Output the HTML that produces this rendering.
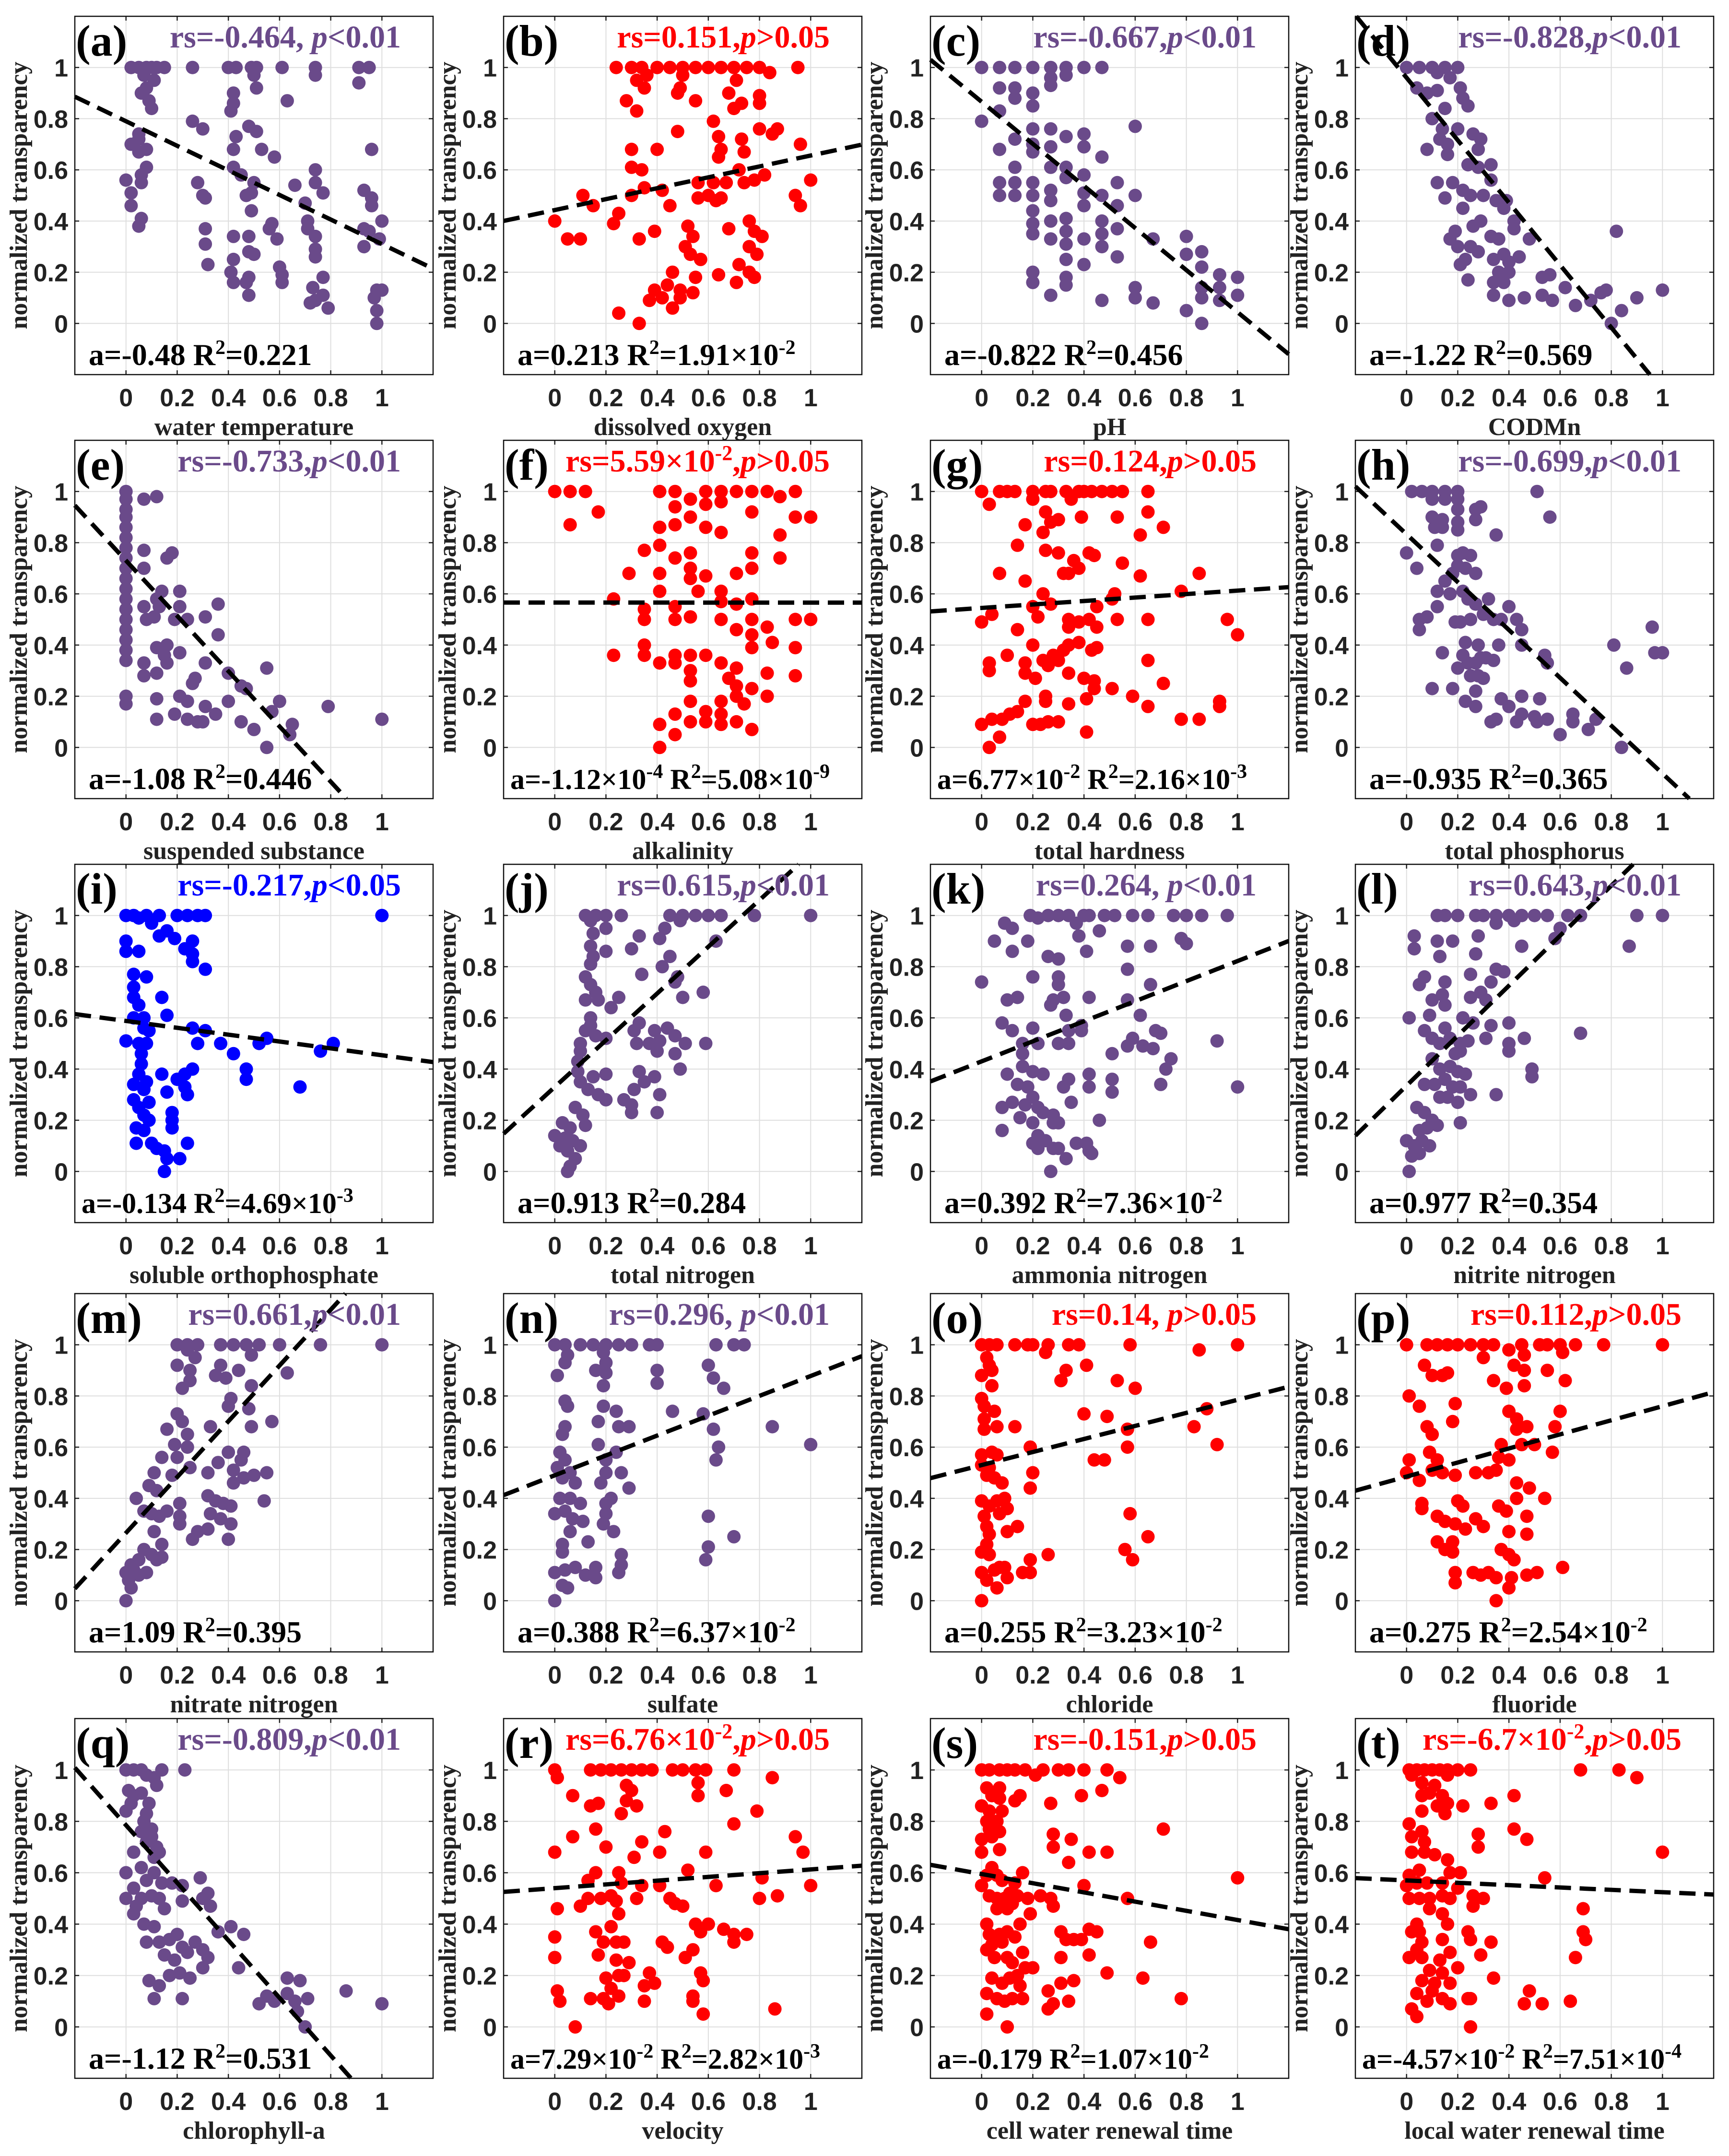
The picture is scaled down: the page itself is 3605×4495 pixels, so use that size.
<!DOCTYPE html>
<html><head><meta charset="utf-8"><style>
html,body{margin:0;padding:0;background:#fff;}
svg{display:block;}
</style></head><body>
<svg id="fig" xmlns="http://www.w3.org/2000/svg" width="3605" height="4495" viewBox="0 0 3605 4495">
<rect x="0" y="0" width="3605" height="4495" fill="#fff"/>
</svg>
<script>
const letters=["a","b","c","d","e","f","g","h","i","j","k","l","m","n","o","p","q","r","s","t"];
const xLabels=["water temperature","dissolved oxygen","pH","CODMn","suspended substance","alkalinity","total hardness","total phosphorus","soluble orthophosphate","total nitrogen","ammonia nitrogen","nitrite nitrogen","nitrate nitrogen","sulfate","chloride","fluoride","chlorophyll-a","velocity","cell water renewal time","local water renewal time"];
const rsTexts=["rs=-0.464, p<0.01","rs=0.151,p>0.05","rs=-0.667,p<0.01","rs=-0.828,p<0.01","rs=-0.733,p<0.01","rs=5.59×10^-2,p>0.05","rs=0.124,p>0.05","rs=-0.699,p<0.01","rs=-0.217,p<0.05","rs=0.615,p<0.01","rs=0.264, p<0.01","rs=0.643,p<0.01","rs=0.661,p<0.01","rs=0.296, p<0.01","rs=0.14, p>0.05","rs=0.112,p>0.05","rs=-0.809,p<0.01","rs=6.76×10^-2,p>0.05","rs=-0.151,p>0.05","rs=-6.7×10^-2,p>0.05"];
const statTexts=["a=-0.48 R^2=0.221","a=0.213 R^2=1.91×10^-2","a=-0.822 R^2=0.456","a=-1.22 R^2=0.569","a=-1.08 R^2=0.446","a=-1.12×10^-4 R^2=5.08×10^-9","a=6.77×10^-2 R^2=2.16×10^-3","a=-0.935 R^2=0.365","a=-0.134 R^2=4.69×10^-3","a=0.913 R^2=0.284","a=0.392 R^2=7.36×10^-2","a=0.977 R^2=0.354","a=1.09 R^2=0.395","a=0.388 R^2=6.37×10^-2","a=0.255 R^2=3.23×10^-2","a=0.275 R^2=2.54×10^-2","a=-1.12 R^2=0.531","a=7.29×10^-2 R^2=2.82×10^-3","a=-0.179 R^2=1.07×10^-2","a=-4.57×10^-2 R^2=7.51×10^-4"];
const seriesColors=["P","R","P","P","P","R","R","P","B","P","P","P","P","P","R","R","P","R","R","R"];
const slopes=[-0.48,0.213,-0.822,-1.22,-1.08,-0.000112,0.0677,-0.935,-0.134,0.913,0.392,0.977,1.09,0.388,0.255,0.275,-1.12,0.0729,-0.179,-0.0457];
const intercepts=[0.79,0.443,0.866,0.96,0.73,0.566,0.545,0.833,0.588,0.33,0.43,0.335,0.265,0.49,0.53,0.485,0.785,0.54,0.595,0.57];
const tickValues=[0,0.2,0.4,0.6,0.8,1];
const tickLabels=["0","0.2","0.4","0.6","0.8","1"];

const panelA=[[0.02,1],[0.05,1],[0.08,1],[0.1,1],[0.12,1],[0.15,1],[0.07,0.97],[0.11,0.95],[0.26,1],[0.4,1],[0.43,1],[0.49,1],[0.51,1],[0.5,0.97],[0.61,1],[0.74,1],[0.74,0.97],[0.91,1],[0.95,1],[0.91,0.94],[0.06,0.9],[0.08,0.92],[0.09,0.87],[0.1,0.84],[0.42,0.9],[0.42,0.86],[0.41,0.83],[0.51,0.92],[0.63,0.87],[0.26,0.79],[0.3,0.76],[0.48,0.77],[0.51,0.75],[0.43,0.73],[0.42,0.68],[0.53,0.68],[0.58,0.65],[0.05,0.74],[0.05,0.72],[0.02,0.7],[0.05,0.67],[0.08,0.68],[0.08,0.61],[0.0,0.56],[0.06,0.58],[0.06,0.55],[0.02,0.51],[0.02,0.46],[0.06,0.41],[0.05,0.38],[0.28,0.55],[0.3,0.5],[0.31,0.49],[0.42,0.61],[0.45,0.58],[0.5,0.55],[0.47,0.5],[0.49,0.51],[0.49,0.44],[0.66,0.54],[0.7,0.47],[0.74,0.6],[0.74,0.55],[0.77,0.51],[0.31,0.37],[0.31,0.31],[0.32,0.23],[0.42,0.25],[0.41,0.2],[0.42,0.16],[0.42,0.34],[0.48,0.34],[0.48,0.28],[0.5,0.27],[0.48,0.18],[0.47,0.16],[0.48,0.11],[0.56,0.37],[0.57,0.39],[0.59,0.33],[0.6,0.22],[0.61,0.19],[0.61,0.16],[0.71,0.37],[0.71,0.4],[0.74,0.34],[0.74,0.29],[0.74,0.26],[0.77,0.18],[0.73,0.14],[0.72,0.08],[0.74,0.09],[0.77,0.11],[0.79,0.06],[0.93,0.52],[0.96,0.49],[0.96,0.46],[0.96,0.68],[0.93,0.37],[0.95,0.36],[0.93,0.3],[0.99,0.33],[1.0,0.4],[0.98,0.13],[0.97,0.1],[0.98,0.05],[0.98,0],[1.0,0.13]];
const panelB=[[0.24,1],[0.3,1],[0.34,1],[0.4,1],[0.45,1],[0.5,1],[0.55,1],[0.6,1],[0.65,1],[0.7,1],[0.75,1],[0.8,1],[0.84,0.98],[0.95,1],[0.36,0.97],[0.32,0.95],[0.5,0.97],[0.71,0.95],[0.35,0.92],[0.49,0.92],[0.48,0.9],[0.55,0.87],[0.68,0.9],[0.73,0.86],[0.7,0.84],[0.8,0.89],[0.8,0.86],[0.28,0.87],[0.32,0.83],[0.62,0.79],[0.48,0.75],[0.64,0.73],[0.8,0.76],[0.87,0.76],[0.85,0.74],[0.73,0.72],[0.96,0.7],[0.3,0.68],[0.4,0.68],[0.65,0.68],[0.64,0.65],[0.74,0.67],[0.3,0.61],[0.34,0.6],[0.35,0.53],[0.72,0.6],[0.82,0.58],[0.78,0.56],[0.74,0.55],[0.56,0.55],[0.62,0.55],[0.67,0.55],[1.0,0.56],[0.42,0.52],[0.3,0.5],[0.56,0.49],[0.6,0.5],[0.63,0.48],[0.65,0.49],[0.94,0.5],[0.96,0.46],[0.11,0.5],[0.15,0.46],[0.45,0.46],[0.25,0.43],[0.0,0.4],[0.23,0.39],[0.05,0.33],[0.1,0.33],[0.33,0.33],[0.39,0.36],[0.52,0.38],[0.54,0.34],[0.51,0.3],[0.53,0.27],[0.57,0.25],[0.68,0.37],[0.76,0.4],[0.78,0.36],[0.81,0.34],[0.76,0.3],[0.79,0.27],[0.72,0.23],[0.76,0.2],[0.78,0.18],[0.64,0.19],[0.71,0.16],[0.46,0.2],[0.44,0.15],[0.49,0.13],[0.55,0.18],[0.54,0.12],[0.39,0.13],[0.37,0.09],[0.42,0.1],[0.46,0.06],[0.49,0.1],[0.25,0.04],[0.33,0]];
const panelC=[[0,1],[0.07,1],[0.13,1],[0.2,1],[0.27,1],[0.27,0.96],[0.27,0.93],[0.33,1],[0.33,0.97],[0.4,1],[0.47,1],[0.07,0.92],[0.13,0.92],[0.13,0.88],[0.2,0.9],[0.2,0.85],[0.07,0.83],[0,0.79],[0.13,0.72],[0.2,0.76],[0.27,0.76],[0.2,0.7],[0.2,0.67],[0.27,0.69],[0.33,0.73],[0.4,0.74],[0.4,0.69],[0.07,0.68],[0.47,0.65],[0.6,0.77],[0.13,0.61],[0.27,0.61],[0.33,0.61],[0.33,0.57],[0.4,0.58],[0.07,0.55],[0.07,0.5],[0.13,0.55],[0.13,0.5],[0.2,0.55],[0.2,0.5],[0.2,0.44],[0.27,0.52],[0.27,0.48],[0.4,0.51],[0.4,0.46],[0.47,0.5],[0.53,0.55],[0.53,0.46],[0.6,0.5],[0.2,0.39],[0.2,0.35],[0.27,0.4],[0.27,0.33],[0.33,0.41],[0.33,0.36],[0.33,0.31],[0.33,0.25],[0.4,0.33],[0.47,0.4],[0.47,0.35],[0.47,0.3],[0.53,0.37],[0.53,0.26],[0.4,0.23],[0.2,0.2],[0.2,0.16],[0.33,0.18],[0.33,0.15],[0.27,0.11],[0.47,0.09],[0.6,0.14],[0.6,0.1],[0.67,0.33],[0.67,0.08],[0.8,0.34],[0.8,0.27],[0.8,0.05],[0.86,0.28],[0.86,0.22],[0.86,0.14],[0.86,0.1],[0.86,0],[0.93,0.19],[0.93,0.14],[0.93,0.09],[1.0,0.18],[1.0,0.11]];
const panelD=[[0,1],[0.05,1],[0.1,1],[0.15,1],[0.2,1],[0.12,0.98],[0.17,0.96],[0.04,0.92],[0.08,0.9],[0.12,0.91],[0.21,0.92],[0.22,0.88],[0.24,0.85],[0.15,0.84],[0.1,0.8],[0.14,0.76],[0.2,0.76],[0.13,0.72],[0.16,0.7],[0.16,0.66],[0.08,0.68],[0.26,0.74],[0.29,0.72],[0.28,0.68],[0.24,0.62],[0.28,0.61],[0.33,0.62],[0.12,0.55],[0.18,0.55],[0.15,0.49],[0.22,0.52],[0.25,0.5],[0.3,0.5],[0.22,0.45],[0.33,0.56],[0.35,0.48],[0.39,0.48],[0.38,0.45],[0.26,0.38],[0.29,0.4],[0.33,0.34],[0.19,0.36],[0.17,0.33],[0.2,0.3],[0.25,0.3],[0.28,0.28],[0.23,0.25],[0.21,0.23],[0.24,0.17],[0.36,0.33],[0.42,0.4],[0.42,0.37],[0.48,0.33],[0.34,0.25],[0.38,0.27],[0.44,0.26],[0.4,0.24],[0.36,0.2],[0.4,0.2],[0.34,0.16],[0.38,0.16],[0.34,0.11],[0.4,0.09],[0.46,0.1],[0.53,0.18],[0.56,0.19],[0.53,0.11],[0.57,0.09],[0.62,0.14],[0.66,0.07],[0.72,0.09],[0.76,0.12],[0.78,0.13],[0.82,0.36],[0.8,0],[0.84,0.05],[0.9,0.1],[1.0,0.13]];
const panelE=[[0,1],[0,0.97],[0,0.93],[0,0.9],[0,0.86],[0,0.82],[0,0.78],[0,0.74],[0,0.7],[0,0.66],[0,0.62],[0,0.58],[0,0.54],[0,0.5],[0,0.46],[0,0.42],[0,0.38],[0,0.34],[0,0.2],[0,0.17],[0.07,0.97],[0.12,0.98],[0.07,0.77],[0.07,0.7],[0.18,0.76],[0.16,0.74],[0.14,0.61],[0.12,0.58],[0.21,0.61],[0.07,0.55],[0.08,0.5],[0.11,0.51],[0.13,0.55],[0.21,0.55],[0.19,0.5],[0.24,0.5],[0.31,0.51],[0.36,0.56],[0.36,0.44],[0.12,0.39],[0.15,0.36],[0.16,0.4],[0.21,0.37],[0.16,0.33],[0.07,0.33],[0.07,0.28],[0.12,0.29],[0.31,0.33],[0.4,0.29],[0.27,0.27],[0.26,0.25],[0.47,0.23],[0.45,0.24],[0.55,0.31],[0.12,0.19],[0.21,0.2],[0.24,0.18],[0.31,0.16],[0.4,0.18],[0.6,0.18],[0.57,0.14],[0.12,0.11],[0.19,0.13],[0.24,0.11],[0.28,0.1],[0.3,0.1],[0.35,0.13],[0.45,0.1],[0.5,0.07],[0.55,0],[0.65,0.09],[0.64,0.05],[0.79,0.16],[1.0,0.11]];
const panelF=[[0,1],[0.06,1],[0.12,1],[0.06,0.87],[0.17,0.92],[0.41,1],[0.47,1],[0.53,0.97],[0.59,1],[0.65,1],[0.71,1],[0.77,1],[0.83,1],[0.88,0.98],[0.94,1],[0.47,0.94],[0.59,0.95],[0.65,0.96],[0.77,0.92],[0.94,0.9],[1.0,0.9],[0.41,0.86],[0.47,0.87],[0.53,0.9],[0.59,0.86],[0.65,0.84],[0.88,0.83],[0.41,0.79],[0.35,0.77],[0.47,0.74],[0.53,0.76],[0.53,0.7],[0.77,0.76],[0.77,0.7],[0.88,0.74],[0.29,0.68],[0.41,0.68],[0.53,0.66],[0.59,0.67],[0.71,0.68],[0.41,0.61],[0.56,0.61],[0.65,0.61],[0.23,0.58],[0.77,0.58],[0.35,0.54],[0.35,0.5],[0.47,0.55],[0.47,0.5],[0.53,0.51],[0.65,0.57],[0.65,0.5],[0.71,0.56],[0.71,0.46],[0.77,0.5],[0.83,0.47],[0.77,0.44],[0.77,0.39],[0.85,0.41],[0.94,0.5],[1.0,0.5],[0.94,0.39],[0.23,0.36],[0.35,0.4],[0.35,0.36],[0.41,0.33],[0.47,0.36],[0.47,0.33],[0.53,0.36],[0.53,0.3],[0.53,0.26],[0.59,0.36],[0.65,0.33],[0.71,0.31],[0.68,0.27],[0.71,0.24],[0.71,0.2],[0.74,0.17],[0.77,0.23],[0.83,0.29],[0.83,0.2],[0.94,0.28],[0.53,0.18],[0.65,0.18],[0.65,0.13],[0.47,0.13],[0.41,0.09],[0.53,0.1],[0.59,0.1],[0.59,0.14],[0.65,0.09],[0.71,0.1],[0.77,0.07],[0.47,0.05],[0.41,0]];
const panelG=[[0,1],[0.03,0.95],[0.07,1],[0.1,1],[0.13,1],[0.2,1],[0.2,0.97],[0.25,1],[0.27,1],[0.33,1],[0.35,0.97],[0.38,1],[0.4,1],[0.43,1],[0.47,1],[0.51,1],[0.55,1],[0.65,1],[0.25,0.92],[0.27,0.88],[0.3,0.89],[0.24,0.84],[0.17,0.87],[0.39,0.9],[0.53,0.9],[0.65,0.92],[0.71,0.86],[0.62,0.83],[0.14,0.79],[0.25,0.77],[0.3,0.76],[0.36,0.73],[0.38,0.7],[0.44,0.75],[0.42,0.76],[0.55,0.72],[0.07,0.68],[0.32,0.68],[0.34,0.68],[0.62,0.67],[0.85,0.68],[0.17,0.65],[0.24,0.6],[0.27,0.56],[0.2,0.55],[0.22,0.51],[0.51,0.58],[0.52,0.6],[0.78,0.61],[0,0.49],[0.04,0.52],[0.34,0.5],[0.34,0.47],[0.38,0.49],[0.42,0.5],[0.45,0.55],[0.45,0.47],[0.53,0.5],[0.65,0.5],[0.96,0.5],[1.0,0.44],[0.14,0.46],[0.2,0.4],[0.1,0.36],[0.03,0.33],[0.03,0.3],[0.17,0.33],[0.17,0.29],[0.21,0.27],[0.24,0.34],[0.26,0.32],[0.28,0.36],[0.3,0.34],[0.32,0.38],[0.34,0.4],[0.38,0.41],[0.43,0.38],[0.45,0.39],[0.65,0.34],[0.34,0.29],[0.4,0.27],[0.44,0.26],[0.44,0.23],[0.51,0.23],[0.71,0.25],[0.59,0.2],[0.25,0.2],[0.25,0.18],[0.17,0.18],[0.34,0.17],[0.41,0.19],[0.65,0.16],[0,0.09],[0.04,0.11],[0.08,0.11],[0.11,0.13],[0.14,0.14],[0.2,0.09],[0.23,0.09],[0.26,0.1],[0.3,0.1],[0.07,0.04],[0.41,0.06],[0.03,0],[0.78,0.11],[0.85,0.11],[0.93,0.18],[0.93,0.16]];
const panelH=[[0.02,1],[0.06,1],[0.1,1],[0.15,1],[0.2,1],[0.1,0.97],[0.15,0.97],[0.2,0.97],[0.2,0.93],[0.27,0.93],[0.29,0.94],[0.1,0.9],[0.14,0.89],[0.11,0.86],[0.14,0.86],[0.2,0.88],[0.2,0.85],[0.27,0.89],[0.35,0.83],[0.51,1],[0.56,0.9],[0,0.76],[0.04,0.7],[0.12,0.79],[0.2,0.75],[0.22,0.76],[0.25,0.75],[0.2,0.71],[0.23,0.7],[0.18,0.68],[0.27,0.68],[0.15,0.65],[0.12,0.61],[0.17,0.6],[0.22,0.61],[0.24,0.58],[0.27,0.56],[0.32,0.58],[0.12,0.55],[0.05,0.5],[0.08,0.51],[0.05,0.46],[0.19,0.49],[0.21,0.49],[0.25,0.5],[0.3,0.52],[0.34,0.5],[0.37,0.5],[0.4,0.55],[0.43,0.5],[0.45,0.46],[0.23,0.41],[0.28,0.4],[0.29,0.35],[0.36,0.4],[0.22,0.36],[0.24,0.33],[0.27,0.33],[0.31,0.35],[0.34,0.34],[0.2,0.31],[0.14,0.37],[0.25,0.28],[0.28,0.28],[0.3,0.27],[0.1,0.23],[0.18,0.23],[0.27,0.22],[0.45,0.4],[0.54,0.36],[0.55,0.33],[0.23,0.18],[0.27,0.16],[0.37,0.19],[0.4,0.16],[0.45,0.2],[0.52,0.19],[0.33,0.1],[0.35,0.11],[0.43,0.1],[0.45,0.13],[0.5,0.12],[0.51,0.1],[0.55,0.11],[0.6,0.05],[0.65,0.1],[0.65,0.13],[0.71,0.07],[0.74,0.11],[0.81,0.4],[0.86,0.31],[0.96,0.47],[0.97,0.37],[1.0,0.37],[0.84,0]];
const panelI=[[0,1],[0.03,1],[0.05,0.99],[0.08,1],[0.13,1],[0.1,0.97],[0.2,1],[0.24,1],[0.28,1],[0.31,1],[0.0,0.9],[0.0,0.86],[0.05,0.86],[0.16,0.94],[0.13,0.92],[0.19,0.91],[0.23,0.87],[0.26,0.9],[0.26,0.85],[0.26,0.82],[0.31,0.79],[0.03,0.77],[0.03,0.72],[0.08,0.76],[0.03,0.68],[0.05,0.65],[0.14,0.68],[0.16,0.61],[0.03,0.6],[0.07,0.6],[0.07,0.56],[0.09,0.55],[0.0,0.51],[0.05,0.5],[0.08,0.5],[0.06,0.46],[0.06,0.42],[0.26,0.56],[0.28,0.5],[0.31,0.55],[0.37,0.5],[0.42,0.46],[0.47,0.4],[0.47,0.36],[0.52,0.5],[0.55,0.52],[0.76,0.47],[0.81,0.5],[0.68,0.33],[1,1],[0.05,0.38],[0.08,0.35],[0.03,0.34],[0.07,0.32],[0.14,0.38],[0.16,0.31],[0.2,0.36],[0.23,0.38],[0.26,0.4],[0.23,0.33],[0.24,0.3],[0.03,0.28],[0.05,0.25],[0.09,0.27],[0.07,0.22],[0.09,0.2],[0.04,0.17],[0.07,0.16],[0.18,0.2],[0.18,0.17],[0.18,0.23],[0.04,0.11],[0.1,0.11],[0.12,0.09],[0.15,0.08],[0.16,0.05],[0.24,0.11],[0.21,0.05],[0.15,0]];
const panelJ=[[0.12,1],[0.16,1],[0.2,1],[0.26,1],[0.45,1],[0.5,1],[0.55,1],[0.6,1],[0.65,1],[0.78,1],[1,1],[0.14,0.98],[0.49,0.98],[0.15,0.93],[0.2,0.95],[0.43,0.95],[0.33,0.92],[0.41,0.91],[0.14,0.88],[0.2,0.86],[0.3,0.87],[0.15,0.84],[0.14,0.81],[0.45,0.84],[0.42,0.8],[0.63,0.9],[0.34,0.77],[0.12,0.76],[0.14,0.73],[0.48,0.76],[0.47,0.74],[0.16,0.7],[0.25,0.68],[0.12,0.67],[0.17,0.67],[0.22,0.64],[0.5,0.68],[0.58,0.7],[0.14,0.6],[0.14,0.57],[0.12,0.55],[0.16,0.53],[0.2,0.52],[0.1,0.5],[0.1,0.47],[0.33,0.58],[0.31,0.55],[0.39,0.55],[0.44,0.56],[0.47,0.53],[0.32,0.5],[0.37,0.5],[0.41,0.51],[0.4,0.47],[0.47,0.46],[0.51,0.5],[0.59,0.5],[0.09,0.43],[0.09,0.39],[0.1,0.35],[0.15,0.37],[0.2,0.38],[0.13,0.32],[0.17,0.3],[0.2,0.28],[0.33,0.39],[0.35,0.35],[0.39,0.37],[0.31,0.32],[0.41,0.3],[0.49,0.4],[0.27,0.28],[0.3,0.26],[0.3,0.23],[0.4,0.23],[0.08,0.25],[0.11,0.22],[0.03,0.19],[0.06,0.17],[0.12,0.18],[0.0,0.14],[0.04,0.13],[0.07,0.12],[0.02,0.1],[0.05,0.08],[0.1,0.1],[0.08,0.05],[0.06,0.02],[0.05,0]];
const panelK=[[0.19,1],[0.22,0.99],[0.26,1],[0.3,1],[0.34,1],[0.37,0.97],[0.4,1],[0.42,1],[0.48,1],[0.52,1],[0.59,1],[0.65,1],[0.75,1],[0.8,1],[0.86,1],[0.96,1],[0.09,0.97],[0.05,0.9],[0.12,0.95],[0.18,0.9],[0.12,0.86],[0.38,0.92],[0.46,0.94],[0.41,0.86],[0.57,0.88],[0.66,0.88],[0.78,0.91],[0.8,0.89],[0.26,0.84],[0.3,0.83],[0.1,0.67],[0,0.74],[0.2,0.76],[0.3,0.76],[0.3,0.73],[0.28,0.67],[0.32,0.68],[0.14,0.68],[0.42,0.68],[0.57,0.79],[0.57,0.67],[0.66,0.73],[0.62,0.61],[0.27,0.65],[0.33,0.61],[0.08,0.58],[0.12,0.55],[0.2,0.56],[0.16,0.5],[0.22,0.5],[0.3,0.5],[0.34,0.5],[0.34,0.55],[0.39,0.55],[0.39,0.57],[0.59,0.52],[0.57,0.49],[0.63,0.49],[0.67,0.48],[0.68,0.55],[0.7,0.54],[0.51,0.46],[0.92,0.51],[0.16,0.46],[0.16,0.41],[0.2,0.39],[0.24,0.38],[0.1,0.38],[0.14,0.34],[0.18,0.33],[0.08,0.25],[0.12,0.27],[0.17,0.26],[0.2,0.29],[0.22,0.25],[0.34,0.36],[0.32,0.33],[0.42,0.38],[0.42,0.33],[0.51,0.36],[0.51,0.31],[0.72,0.4],[0.74,0.44],[0.7,0.34],[1.0,0.33],[0.35,0.27],[0.24,0.23],[0.28,0.22],[0.15,0.21],[0.2,0.19],[0.28,0.19],[0.3,0.19],[0.46,0.2],[0.08,0.16],[0.22,0.14],[0.2,0.11],[0.25,0.12],[0.22,0.09],[0.28,0.09],[0.3,0.09],[0.37,0.11],[0.41,0.11],[0.42,0.08],[0.43,0.07],[0.33,0.05],[0.27,0]];
const panelL=[[0.12,1],[0.15,1],[0.2,1],[0.27,1],[0.3,1],[0.35,1],[0.4,1],[0.45,1],[0.5,1],[0.55,1],[0.63,1],[0.68,1],[0.9,1],[1,1],[0.35,0.97],[0.42,0.98],[0.6,0.95],[0.03,0.92],[0.03,0.87],[0.12,0.9],[0.18,0.9],[0.28,0.92],[0.45,0.88],[0.58,0.91],[0.87,0.88],[0.13,0.84],[0.27,0.85],[0.35,0.79],[0.38,0.78],[0.25,0.77],[0.05,0.73],[0.07,0.76],[0.15,0.74],[0.1,0.67],[0.14,0.69],[0.15,0.65],[0.25,0.68],[0.29,0.7],[0.31,0.67],[0.33,0.74],[0.01,0.6],[0.09,0.61],[0.22,0.6],[0.26,0.58],[0.07,0.55],[0.15,0.56],[0.33,0.57],[0.4,0.58],[0.1,0.52],[0.13,0.5],[0.17,0.52],[0.21,0.5],[0.24,0.51],[0.31,0.52],[0.4,0.5],[0.4,0.47],[0.46,0.52],[0.49,0.4],[0.49,0.37],[0.68,0.54],[0.19,0.46],[0.21,0.47],[0.1,0.44],[0.13,0.4],[0.17,0.41],[0.2,0.39],[0.23,0.38],[0.15,0.36],[0.07,0.34],[0.11,0.34],[0.18,0.33],[0.21,0.33],[0.25,0.3],[0.35,0.3],[0.13,0.29],[0.16,0.29],[0.2,0.27],[0.04,0.25],[0.07,0.23],[0.1,0.2],[0.12,0.18],[0.08,0.17],[0.05,0.16],[0.21,0.19],[0.0,0.12],[0.03,0.1],[0.06,0.12],[0.09,0.1],[0.02,0.06],[0.05,0.07],[0.01,0]];
const panelM=[[0.2,1],[0.24,1],[0.28,1],[0.37,1],[0.42,1],[0.47,1],[0.52,1],[0.6,1],[0.76,1],[1,1],[0.24,0.98],[0.27,0.95],[0.49,0.96],[0.2,0.92],[0.25,0.9],[0.37,0.92],[0.44,0.9],[0.25,0.86],[0.35,0.88],[0.39,0.87],[0.63,0.89],[0.22,0.83],[0.49,0.84],[0.41,0.79],[0.4,0.76],[0.48,0.75],[0.2,0.73],[0.22,0.7],[0.16,0.67],[0.33,0.68],[0.49,0.68],[0.57,0.7],[0.24,0.65],[0.19,0.61],[0.24,0.6],[0.14,0.56],[0.2,0.56],[0.4,0.58],[0.46,0.58],[0.45,0.55],[0.11,0.5],[0.18,0.49],[0.25,0.52],[0.32,0.5],[0.36,0.54],[0.42,0.51],[0.5,0.49],[0.55,0.5],[0.09,0.45],[0.12,0.43],[0.04,0.4],[0.42,0.46],[0.46,0.48],[0.54,0.39],[0.21,0.38],[0.32,0.41],[0.35,0.39],[0.38,0.38],[0.41,0.37],[0.07,0.35],[0.1,0.34],[0.13,0.33],[0.16,0.35],[0.21,0.33],[0.33,0.34],[0.37,0.32],[0.21,0.3],[0.41,0.3],[0.11,0.27],[0.28,0.27],[0.32,0.28],[0.26,0.24],[0.4,0.24],[0.14,0.22],[0.07,0.2],[0.1,0.18],[0.12,0.16],[0.14,0.17],[0.05,0.16],[0.02,0.14],[0.0,0.11],[0.03,0.12],[0.05,0.1],[0.08,0.11],[0.01,0.08],[0.02,0.05],[0.0,0.0]];
const panelN=[[0,1],[0.04,1],[0.1,1],[0.15,1],[0.2,1],[0.25,1],[0.3,1],[0.37,1],[0.4,1],[0.63,1],[0.7,1],[0.74,1],[0.05,0.96],[0.04,0.93],[0.19,0.97],[0.2,0.93],[0.16,0.9],[0.2,0.89],[0.4,0.9],[0.4,0.85],[0.19,0.84],[0.01,0.88],[0.6,0.92],[0.62,0.87],[0.66,0.83],[0.04,0.78],[0.05,0.76],[0.19,0.76],[0.24,0.74],[0.46,0.74],[0.58,0.73],[0.17,0.7],[0.25,0.68],[0.29,0.68],[0.62,0.67],[0.85,0.68],[0.04,0.68],[0.03,0.65],[0.17,0.61],[0.64,0.6],[0.63,0.55],[1,0.61],[0.02,0.58],[0.04,0.55],[0.01,0.52],[0.06,0.5],[0.03,0.48],[0.2,0.55],[0.24,0.58],[0.2,0.5],[0.26,0.5],[0.08,0.46],[0.18,0.46],[0.29,0.44],[0.02,0.4],[0.06,0.4],[0.1,0.38],[0.0,0.34],[0.04,0.35],[0.07,0.32],[0.11,0.31],[0.2,0.38],[0.22,0.4],[0.2,0.34],[0.19,0.3],[0.23,0.27],[0.6,0.33],[0.7,0.25],[0.06,0.27],[0.13,0.23],[0.03,0.22],[0.03,0.19],[0.6,0.21],[0.59,0.16],[0.26,0.18],[0.26,0.14],[0.0,0.11],[0.04,0.12],[0.08,0.13],[0.12,0.1],[0.16,0.09],[0.16,0.13],[0.25,0.11],[0.03,0.06],[0.05,0.05],[0,0]];
const panelO=[[0,1],[0.03,1],[0.06,1],[0.13,1],[0.18,1],[0.2,1],[0.26,1],[0.34,1],[0.38,1],[0.58,1],[0.85,0.98],[1,1],[0.25,0.97],[0.02,0.95],[0.03,0.92],[0.04,0.9],[0.0,0.88],[0.33,0.9],[0.31,0.86],[0.41,0.92],[0.53,0.86],[0.6,0.83],[0.04,0.84],[0.0,0.79],[0.01,0.76],[0.05,0.74],[0.4,0.73],[0.49,0.72],[0.88,0.75],[0.01,0.71],[0.01,0.67],[0.06,0.68],[0.13,0.68],[0.57,0.67],[0.83,0.68],[0.92,0.61],[0.57,0.6],[0.19,0.6],[0.0,0.57],[0.04,0.58],[0.06,0.57],[0.0,0.53],[0.03,0.52],[0.02,0.49],[0.05,0.48],[0.2,0.5],[0.44,0.55],[0.48,0.55],[0.08,0.46],[0.19,0.44],[0.0,0.39],[0.03,0.37],[0.06,0.39],[0.09,0.4],[0.1,0.36],[0.07,0.34],[0.01,0.33],[0.02,0.29],[0.03,0.26],[0.14,0.29],[0.1,0.27],[0.58,0.34],[0.65,0.25],[0.02,0.22],[0.0,0.19],[0.03,0.18],[0.56,0.2],[0.59,0.16],[0.26,0.18],[0.19,0.16],[0.16,0.11],[0.19,0.11],[0.0,0.11],[0.02,0.08],[0.05,0.12],[0.07,0.13],[0.09,0.13],[0.1,0.09],[0.06,0.05],[0.0,0]];
const panelP=[[0,1],[0.08,1],[0.12,1],[0.16,1],[0.2,1],[0.25,1],[0.3,1],[0.34,1],[0.4,0.98],[0.45,1],[0.52,1],[0.55,1],[0.6,1],[0.66,1],[0.77,1],[1,1],[0.3,0.95],[0.46,0.96],[0.61,0.97],[0.07,0.92],[0.1,0.88],[0.14,0.88],[0.16,0.89],[0.42,0.92],[0.46,0.9],[0.55,0.9],[0.34,0.86],[0.39,0.83],[0.46,0.84],[0.62,0.86],[0.01,0.8],[0.05,0.76],[0.19,0.77],[0.18,0.7],[0.4,0.74],[0.43,0.71],[0.08,0.68],[0.1,0.65],[0.43,0.67],[0.47,0.68],[0.6,0.74],[0.58,0.68],[0.37,0.61],[0.45,0.61],[0.5,0.61],[0.57,0.58],[0.09,0.58],[0.12,0.55],[0.01,0.55],[0.0,0.5],[0.05,0.47],[0.1,0.51],[0.14,0.5],[0.19,0.49],[0.27,0.5],[0.32,0.5],[0.35,0.51],[0.36,0.56],[0.4,0.55],[0.43,0.46],[0.48,0.44],[0.54,0.4],[0.43,0.4],[0.06,0.38],[0.06,0.36],[0.2,0.39],[0.22,0.37],[0.12,0.33],[0.15,0.31],[0.19,0.3],[0.23,0.28],[0.27,0.32],[0.3,0.29],[0.36,0.37],[0.39,0.35],[0.47,0.33],[0.12,0.23],[0.15,0.2],[0.18,0.19],[0.18,0.23],[0.4,0.27],[0.47,0.26],[0.37,0.2],[0.4,0.18],[0.42,0.16],[0.19,0.11],[0.19,0.07],[0.26,0.11],[0.29,0.1],[0.32,0.11],[0.35,0.09],[0.41,0.09],[0.4,0.05],[0.47,0.1],[0.51,0.11],[0.61,0.13],[0.35,0]];
const panelQ=[[0,1],[0.03,1],[0.06,1],[0.08,0.98],[0.14,1],[0.23,1],[0.11,0.97],[0.12,0.94],[0.01,0.92],[0.03,0.9],[0.06,0.91],[0.02,0.87],[0.09,0.87],[0.0,0.84],[0.08,0.83],[0.07,0.8],[0.06,0.76],[0.1,0.77],[0.1,0.74],[0.08,0.72],[0.03,0.68],[0.12,0.7],[0.11,0.66],[0.13,0.68],[0.0,0.6],[0.06,0.62],[0.11,0.6],[0.08,0.57],[0.14,0.56],[0.18,0.56],[0.22,0.55],[0.03,0.54],[0.06,0.5],[0.1,0.51],[0.13,0.5],[0.0,0.5],[0.15,0.46],[0.03,0.44],[0.22,0.49],[0.29,0.58],[0.32,0.52],[0.3,0.5],[0.33,0.47],[0.07,0.4],[0.11,0.39],[0.04,0.47],[0.36,0.37],[0.41,0.39],[0.46,0.36],[0.08,0.33],[0.13,0.33],[0.17,0.34],[0.2,0.36],[0.22,0.31],[0.27,0.33],[0.3,0.3],[0.15,0.28],[0.19,0.26],[0.24,0.29],[0.32,0.27],[0.3,0.23],[0.44,0.23],[0.21,0.21],[0.17,0.2],[0.25,0.19],[0.09,0.18],[0.13,0.16],[0.11,0.11],[0.22,0.11],[0.52,0.09],[0.55,0.12],[0.58,0.1],[0.63,0.13],[0.63,0.19],[0.68,0.18],[0.66,0.1],[0.71,0.11],[0.67,0.06],[0.7,0],[0.86,0.14],[1,0.09]];
const panelR=[[0,1],[0.01,0.97],[0.14,1],[0.18,1],[0.22,1],[0.26,1],[0.3,1],[0.34,1],[0.38,1],[0.46,1],[0.5,1],[0.55,1],[0.59,1],[0.7,1],[0.85,0.97],[0.28,0.94],[0.3,0.92],[0.28,0.88],[0.32,0.86],[0.56,0.95],[0.56,0.9],[0.67,0.92],[0.07,0.9],[0.14,0.86],[0.17,0.87],[0.26,0.83],[0.79,0.84],[0.7,0.79],[0.16,0.77],[0.07,0.74],[0.43,0.76],[0.94,0.74],[0.2,0.7],[0.34,0.72],[0.31,0.66],[0.41,0.68],[0.59,0.68],[0.0,0.68],[0.97,0.68],[0.16,0.6],[0.25,0.6],[0.13,0.57],[0.26,0.56],[0.34,0.55],[0.41,0.55],[0.52,0.61],[0.63,0.55],[0.81,0.58],[1,0.55],[0.13,0.5],[0.18,0.5],[0.22,0.51],[0.24,0.49],[0.32,0.5],[0.45,0.5],[0.47,0.48],[0.5,0.47],[0.8,0.5],[0.87,0.51],[0.01,0.46],[0.1,0.47],[0.25,0.44],[0.22,0.39],[0.0,0.35],[0.16,0.37],[0.19,0.33],[0.24,0.33],[0.27,0.33],[0.42,0.33],[0.44,0.31],[0.55,0.4],[0.57,0.37],[0.6,0.4],[0.66,0.38],[0.7,0.36],[0.75,0.36],[0.7,0.33],[0.54,0.3],[0.51,0.27],[0.0,0.27],[0.17,0.28],[0.24,0.26],[0.29,0.25],[0.25,0.2],[0.27,0.2],[0.37,0.21],[0.39,0.17],[0.35,0.16],[0.57,0.21],[0.58,0.18],[0.2,0.19],[0.22,0.15],[0.01,0.14],[0.02,0.1],[0.14,0.11],[0.19,0.11],[0.21,0.09],[0.25,0.12],[0.35,0.1],[0.54,0.12],[0.54,0.1],[0.58,0.05],[0.86,0.07],[0.08,0]];
const panelS=[[0,1],[0.03,1],[0.07,1],[0.1,1],[0.13,1],[0.17,1],[0.21,0.98],[0.24,1],[0.3,1],[0.34,1],[0.4,1],[0.49,1],[0.54,0.97],[0.02,0.93],[0.07,0.93],[0.04,0.9],[0.07,0.89],[0.13,0.88],[0.15,0.9],[0.39,0.9],[0.47,0.92],[0.27,0.87],[0.0,0.86],[0.03,0.84],[0.08,0.84],[0.02,0.8],[0.06,0.8],[0.03,0.77],[0.07,0.76],[0.71,0.77],[0.28,0.75],[0.35,0.73],[0.0,0.73],[0.04,0.74],[0.0,0.68],[0.07,0.69],[0.28,0.7],[0.42,0.68],[0.49,0.68],[0.34,0.64],[0.04,0.62],[0.02,0.59],[0.0,0.55],[0.06,0.59],[0.08,0.57],[0.13,0.56],[0.16,0.6],[0.4,0.55],[1,0.58],[0.03,0.51],[0.06,0.5],[0.09,0.5],[0.11,0.52],[0.12,0.48],[0.14,0.51],[0.18,0.5],[0.23,0.51],[0.27,0.5],[0.28,0.47],[0.57,0.5],[0.06,0.46],[0.1,0.46],[0.19,0.44],[0.15,0.4],[0.02,0.4],[0.03,0.36],[0.07,0.36],[0.1,0.37],[0.13,0.35],[0.04,0.32],[0.08,0.33],[0.02,0.3],[0.05,0.27],[0.1,0.27],[0.31,0.37],[0.33,0.34],[0.36,0.34],[0.39,0.34],[0.42,0.38],[0.45,0.37],[0.66,0.33],[0.31,0.27],[0.42,0.28],[0.16,0.29],[0.2,0.23],[0.12,0.25],[0.17,0.23],[0.49,0.21],[0.63,0.19],[0.04,0.19],[0.08,0.17],[0.11,0.19],[0.14,0.2],[0.15,0.16],[0.31,0.17],[0.36,0.18],[0.02,0.13],[0.06,0.11],[0.09,0.1],[0.12,0.11],[0.16,0.11],[0.26,0.14],[0.28,0.09],[0.26,0.07],[0.34,0.1],[0.78,0.11],[0.02,0.05],[0.1,0]];
const panelT=[[0.01,1],[0.04,1],[0.07,1],[0.1,1],[0.13,1],[0.16,1],[0.2,1],[0.25,1],[0.68,1],[0.83,1],[0.9,0.97],[0.02,0.98],[0.06,0.95],[0.11,0.94],[0.16,0.98],[0.06,0.9],[0.09,0.91],[0.14,0.9],[0.16,0.87],[0.12,0.86],[0.15,0.83],[0.06,0.84],[0.22,0.86],[0.33,0.87],[0.42,0.9],[0.42,0.77],[0.47,0.73],[0.28,0.75],[0.28,0.7],[0.01,0.79],[0.02,0.74],[0.06,0.76],[0.07,0.72],[0.02,0.68],[0.07,0.68],[0.11,0.67],[0.16,0.65],[0.17,0.6],[0.21,0.6],[0.05,0.61],[0.01,0.59],[1,0.68],[0.54,0.58],[0.0,0.55],[0.04,0.56],[0.08,0.56],[0.14,0.56],[0.2,0.54],[0.01,0.5],[0.05,0.5],[0.09,0.5],[0.14,0.51],[0.17,0.5],[0.26,0.51],[0.3,0.5],[0.26,0.47],[0.09,0.46],[0.14,0.44],[0.16,0.4],[0.04,0.4],[0.05,0.37],[0.02,0.37],[0.06,0.33],[0.04,0.3],[0.01,0.27],[0.06,0.27],[0.14,0.34],[0.17,0.29],[0.24,0.37],[0.25,0.34],[0.33,0.33],[0.29,0.28],[0.69,0.46],[0.69,0.37],[0.7,0.34],[0.66,0.27],[0.13,0.26],[0.14,0.21],[0.2,0.23],[0.09,0.22],[0.06,0.18],[0.11,0.17],[0.17,0.17],[0.34,0.19],[0.04,0.13],[0.1,0.14],[0.14,0.11],[0.08,0.1],[0.17,0.09],[0.24,0.11],[0.25,0.11],[0.02,0.07],[0.04,0.04],[0.25,0],[0.46,0.09],[0.48,0.14],[0.53,0.09],[0.64,0.1]];
const allPanels=[panelA,panelB,panelC,panelD,panelE,panelF,panelG,panelH,panelI,panelJ,panelK,panelL,panelM,panelN,panelO,panelP,panelQ,panelR,panelS,panelT];

const NS="http://www.w3.org/2000/svg";
const svg=document.getElementById("fig");
const COLORS={P:"#6a4a8a",R:"#ff0000",B:"#0000ff"};
const colLeft=[156,1050,1940,2826];
const rowTop=[34,918,1802,2697,3583];
const BW=747;
const rowH=[747,747,747,747,750];
const VMIN=-0.2,VMAX=1.2;
const SERIF='"Liberation Serif", serif';
const SANS='"Liberation Sans", sans-serif';

function mk(tag,attrs,parent){
  const e=document.createElementNS(NS,tag);
  for(const k in attrs) e.setAttribute(k,attrs[k]);
  (parent||svg).appendChild(e);
  return e;
}
function esc(s){return s.replace(/&/g,"&amp;").replace(/</g,"&lt;").replace(/>/g,"&gt;");}
function fmt(s,supSize){
  let h=esc(s);
  h=h.replace(/\^(-?\d+)/g,'<tspan baseline-shift="super" font-size="'+supSize+'">$1</tspan>');
  h=h.replace(/p(&lt;|&gt;)/,'<tspan font-style="italic">p</tspan>$1');
  return h;
}

allPanels.forEach((pts,i)=>{
  const col=i%4,row=Math.floor(i/4);
  const L=colLeft[col],T=rowTop[row],H=rowH[row];
  const sx=v=>L+(v-VMIN)/(VMAX-VMIN)*BW;
  const sy=v=>T+(VMAX-v)/(VMAX-VMIN)*H;
  const g=mk("g",{});
  
  

  const grid=mk("g",{stroke:"#dedede","stroke-width":2},g);
  
  
  tickValues.forEach(v=>{
    mk("line",{x1:sx(v),x2:sx(v),y1:T,y2:T+H},grid);
    mk("line",{x1:L,x2:L+BW,y1:sy(v),y2:sy(v)},grid);
  });
  const tk=mk("g",{stroke:"#222","stroke-width":2.5},g);
  
  
  tickValues.forEach(v=>{
    mk("line",{x1:sx(v),x2:sx(v),y1:T+H,y2:T+H-9},tk);
    mk("line",{x1:sx(v),x2:sx(v),y1:T,y2:T+9},tk);
    mk("line",{x1:L,x2:L+9,y1:sy(v),y2:sy(v)},tk);
    mk("line",{x1:L+BW,x2:L+BW-9,y1:sy(v),y2:sy(v)},tk);
  });
  const pg=mk("g",{fill:COLORS[seriesColors[i]]},g);
  
  
  pts.forEach(p=>{
    const c=mk("circle",{cx:sx(p[0]).toFixed(1),cy:sy(p[1]).toFixed(1),r:14},pg);
    
    
  });
  const a=slopes[i],b=intercepts[i];
  let x0=VMIN,x1=VMAX;
  if(Math.abs(a)>1e-6){
    const xa=(VMIN-b)/a,xb=(VMAX-b)/a;
    x0=Math.max(x0,Math.min(xa,xb)); x1=Math.min(x1,Math.max(xa,xb));
  }
  const fl=mk("line",{x1:sx(x0),y1:sy(a*x0+b),x2:sx(x1),y2:sy(a*x1+b),stroke:"#000","stroke-width":9,"stroke-dasharray":"34 18"},g);
  
  
  const bx=mk("rect",{x:L,y:T,width:BW,height:H,fill:"none",stroke:"#111","stroke-width":2.5},g);
  
  
  tickValues.forEach((v,k)=>{
    const xt=mk("text",{x:sx(v),y:T+H+66,"font-family":SANS,"font-weight":"bold","font-size":52,"text-anchor":"middle",fill:"#222"},g);
    xt.textContent=tickLabels[k];
    
    
    const yt=mk("text",{x:L-14,y:sy(v)+19,"font-family":SANS,"font-weight":"bold","font-size":52,"text-anchor":"end",fill:"#222"},g);
    yt.textContent=tickLabels[k];
    
    
  });
  const xl=mk("text",{x:L+BW/2,y:T+H+126,"font-family":SERIF,"font-weight":"bold","font-size":52,"text-anchor":"middle",fill:"#222"},g);
  xl.textContent=xLabels[i];
  
  
  const cy=T+H/2, cx=L-100;
  const yl=mk("text",{x:cx,y:cy,"font-family":SERIF,"font-weight":"bold","font-size":52,"text-anchor":"middle",fill:"#222",transform:"rotate(-90 "+cx+" "+cy+")"},g);
  yl.textContent="normalized transparency";
  
  
  const pl=mk("text",{x:L+2,y:T+82,"font-family":SERIF,"font-weight":"bold","font-size":92,fill:"#000"},g);
  pl.textContent="("+letters[i]+")";
  
  
  const rs=mk("text",{x:L+680,y:T+65,"font-family":SERIF,"font-weight":"bold","font-size":66,"text-anchor":"end",fill:COLORS[seriesColors[i]]},g);
  rs.innerHTML=fmt(rsTexts[i],44);
  
  
  const long=statTexts[i].length>22;
  const st=mk("text",{x:L+(long?14:29),y:T+H-20,"font-family":SERIF,"font-weight":"bold","font-size":long?60:64,fill:"#000"},g);
  st.innerHTML=fmt(statTexts[i],42);
  
  
});
</script>
</body></html>
